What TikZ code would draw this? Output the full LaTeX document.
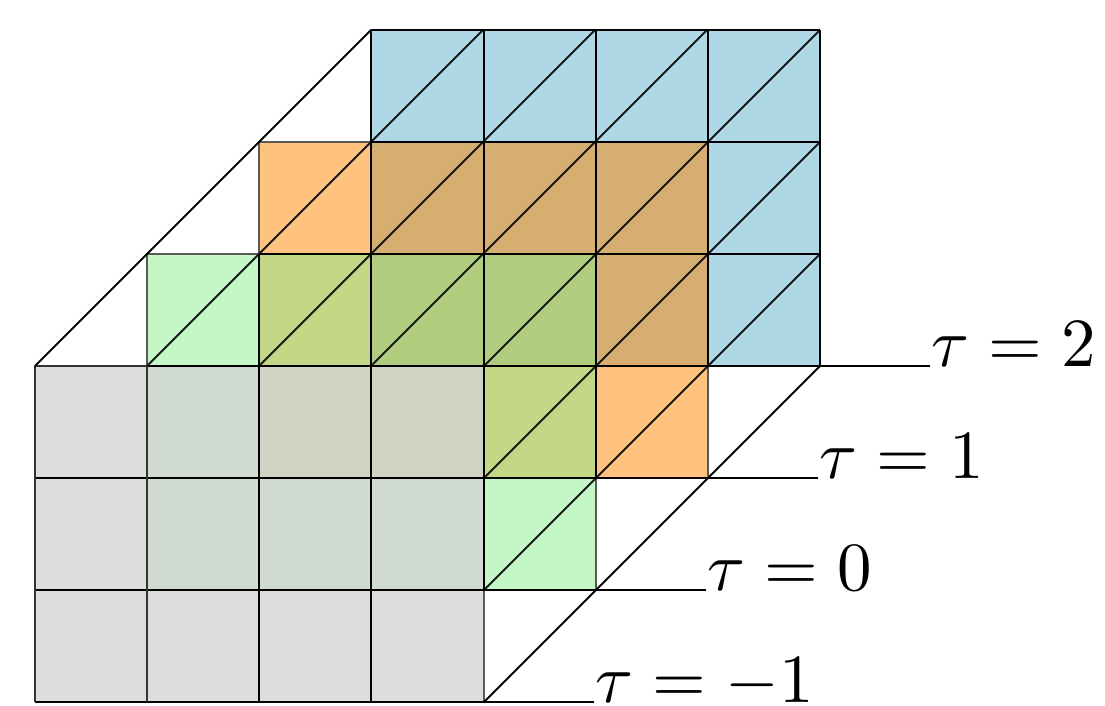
\documentclass[tikz,border=0pt]{standalone}
\begin{document}
\begin{tikzpicture}[x=1pt,y=-1pt,
  gridline/.style={black,line width=1.9pt},
  edgeline/.style={black!65,line width=1.6pt},
  softline/.style={black!80,line width=2.3pt},
  sideline/.style={black,line width=1.9pt,line cap=round},
  diagline/.style={black!90,line width=1.8pt},
  taulabel/.style={anchor=base west,inner sep=0pt,scale=6.9},
  blayer/.style={fill={rgb,255:red,174;green,216;blue,230}},
  olayer/.style={fill={rgb,255:red,255;green,133;blue,0},fill opacity=.5},
  glayer/.style={fill={rgb,255:red,139;green,237;blue,141},fill opacity=.5},
  ylayer/.style={fill={rgb,255:red,212;green,212;blue,212},fill opacity=.79}]
\useasboundingbox (0,0) rectangle (1105,706);
% fills
\path[blayer] (371,30) rectangle (820,366);
\path[olayer] (259,142) rectangle (708,478);
\path[glayer] (147,254) rectangle (596,590);
\path[ylayer] (35,366) rectangle (484,702);
% soft outer edges
\draw[edgeline] (259,254) -- (259,142) -- (371,142);
\draw[edgeline] (708,366) -- (708,478);
\draw[edgeline] (147,366) -- (147,254) -- (259,254);
\draw[edgeline] (596,478) -- (596,590);
\draw[edgeline] (484,590) -- (484,702);
% diagonals of the visible triangles
\foreach \a/\b/\c/\d in {147/366/483/30,259/366/595/30,371/366/707/30,484/366/820/30,484/478/820/142,484/590/820/254}
  \draw[diagline] (\a,\b) -- (\c,\d);
% horizontal grid lines
\foreach \y/\a/\b in {30/371/820,142/371/820,254/259/820,366/147/820,478/35/708,590/35/596}
  \draw[gridline] (\a,\y) -- (\b,\y);
\draw[softline] (35,366) -- (147,366);
\draw[gridline] (35,702) -- (484,702);
% vertical grid lines
\foreach \x/\a/\b in {259/254/702,371/30/702,484/30/590,596/30/478,708/30/366,820/30/366}
  \draw[gridline] (\x,\a) -- (\x,\b);
\draw[softline] (35,366) -- (35,702);
\draw[softline] (147,366) -- (147,702);
% depth lines
\coordinate (fl) at (35,366);
\coordinate (bl) at (371,30);
\coordinate (fr) at (484,702);
\coordinate (br) at (820,366);
\draw[sideline] (fl) -- (bl);
\draw[sideline] (fr) -- (br);
% labels and their leaders
\node[taulabel] (t2) at (930,366) {$\tau=2$};
\node[taulabel] (t1) at (818,478) {$\tau=1$};
\node[taulabel] (t0) at (706,590) {$\tau=0$};
\node[taulabel] (tm) at (594,702) {$\tau=-1$};
\coordinate (p2) at (820,366);
\coordinate (p1) at (708,478);
\coordinate (p0) at (596,590);
\draw[gridline] (p2) -- (t2.base west);
\draw[gridline] (p1) -- (t1.base west);
\draw[gridline] (p0) -- (t0.base west);
\draw[gridline] (fr) -- (tm.base west);
\end{tikzpicture}
\end{document}
